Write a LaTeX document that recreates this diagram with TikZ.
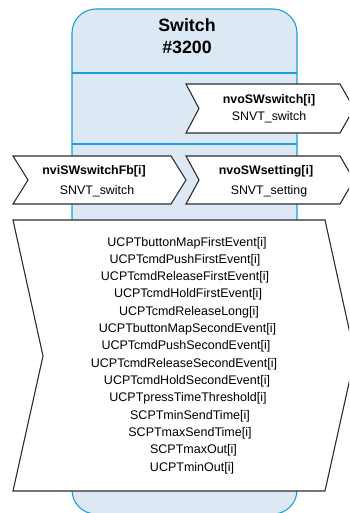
\documentclass[tikz,border=0pt]{standalone}
\usepackage{fontspec}
\setmainfont{Liberation Sans}
\definecolor{framefill}{RGB}{220,233,245}
\definecolor{framedraw}{RGB}{28,158,218}
\definecolor{shapedraw}{RGB}{45,45,45}
\begin{document}
\begin{tikzpicture}[x=1pt,y=-1pt,
  frame/.style={draw=framedraw,line width=1.1pt},
  port/.style={draw=shapedraw,fill=white,line width=1.1pt,line join=miter},
  title/.style={font=\fontsize{17.8}{20}\selectfont\bfseries,anchor=base,inner sep=0pt},
  pname/.style={font=\fontsize{12.4}{14}\selectfont\bfseries,anchor=base,inner sep=0pt},
  ptype/.style={font=\fontsize{12.4}{14}\selectfont,anchor=base,inner sep=0pt},
  cp/.style={font=\fontsize{12.5}{14}\selectfont,anchor=base,inner sep=0pt}]
\useasboundingbox (0,0) rectangle (349,513);
\clip (0,0) rectangle (349,513);
% frame
\path[fill=framefill,frame] (72,490) -- (72,33) arc[start angle=180,end angle=270,radius=24] -- (273,9) arc[start angle=270,end angle=360,radius=24] -- (297,490) arc[start angle=0,end angle=90,radius=24] -- (96,514) arc[start angle=90,end angle=180,radius=24] -- cycle;
\draw[frame] (72,73) -- (297,73);
\draw[frame] (72,144) -- (297,144);
\node[title] (t1) at (187,32) {Switch};
\node[title] (t2) at (187,54) {\#3200};
% nvoSWswitch
\draw[port] (186,84) -- (340,84) -- (354,108.5) -- (340,133) -- (186,133) -- (199,108.5) -- cycle;
\node[pname] (n1) at (269,104) {nvoSWswitch[i]};
\node[ptype] (n1t) at (269,121) {SNVT\_switch};
% nviSWswitchFb
\draw[port] (13,156) -- (171,156) -- (186,180) -- (171,204) -- (13,204) -- (28,180) -- cycle;
\node[pname] (n2) at (94,175) {nviSWswitchFb[i]};
\node[ptype] (n2t) at (97,194) {SNVT\_switch};
% nvoSWsetting
\draw[port] (186,156) -- (340,156) -- (354,180) -- (340,204) -- (186,204) -- (199,180) -- cycle;
\node[pname] (n3) at (266,175) {nvoSWsetting[i]};
\node[ptype] (n3t) at (269,194) {SNVT\_setting};
% config properties
\draw[port] (13,220) -- (325,220) -- (355,356) -- (325,491) -- (13,491) -- (43,356) -- cycle;
\node[cp] (c1) at (187,246) {UCPTbuttonMapFirstEvent[i]};
\node[cp] (c2) at (185,263.3) {UCPTcmdPushFirstEvent[i]};
\node[cp] (c3) at (185,280.6) {UCPTcmdReleaseFirstEvent[i]};
\node[cp] (c4) at (188,297.9) {UCPTcmdHoldFirstEvent[i]};
\node[cp] (c5) at (189,315.2) {UCPTcmdReleaseLong[i]};
\node[cp] (c6) at (187.5,332.5) {UCPTbuttonMapSecondEvent[i]};
\node[cp] (c7) at (186,349.8) {UCPTcmdPushSecondEvent[i]};
\node[cp] (c8) at (184,367.1) {UCPTcmdReleaseSecondEvent[i]};
\node[cp] (c9) at (187,384.4) {UCPTcmdHoldSecondEvent[i]};
\node[cp] (c10) at (188,401.7) {UCPTpressTimeThreshold[i]};
\node[cp] (c11) at (190,419) {SCPTminSendTime[i]};
\node[cp] (c12) at (190,436.3) {SCPTmaxSendTime[i]};
\node[cp] (c13) at (193.5,453.6) {SCPTmaxOut[i]};
\node[cp] (c14) at (192,471) {UCPTminOut[i]};
\end{tikzpicture}
\end{document}
